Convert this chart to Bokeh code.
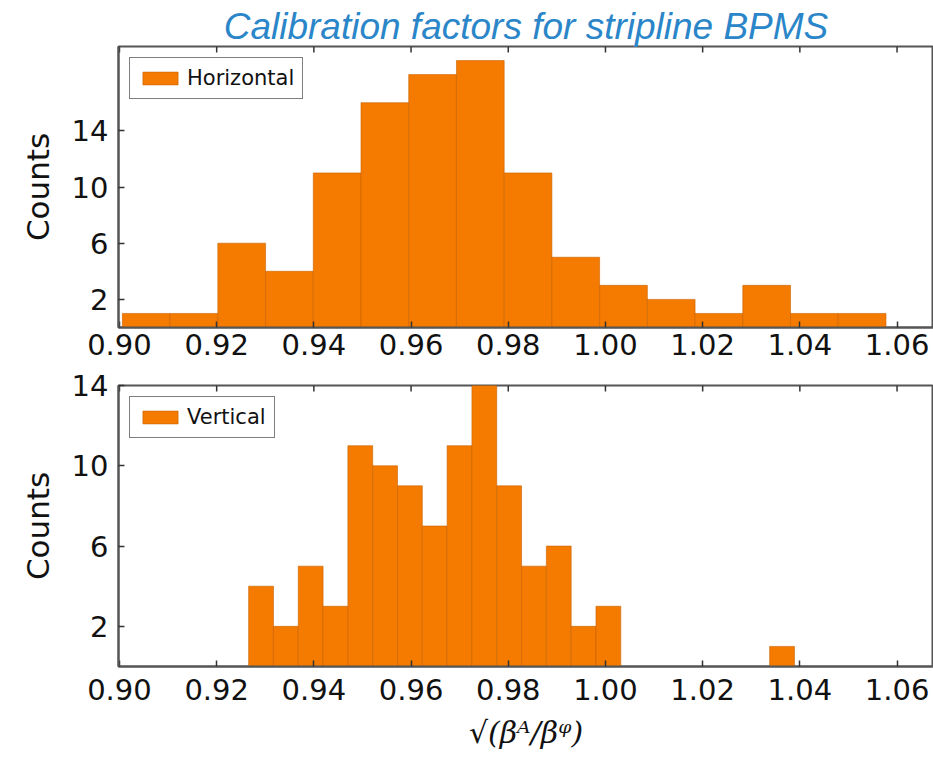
import math
from bokeh.plotting import figure
from bokeh.layouts import column
from bokeh.models import (Range1d, FixedTicker, Legend, LegendItem,
                          ColumnDataSource, Title, NumeralTickFormatter)
from bokeh.embed import file_html
from bokeh.resources import INLINE

# ---- data ----
h_start = 0.9006
h_width = 0.00982
h_counts = [1, 1, 6, 4, 11, 16, 18, 19, 11, 5, 3, 2, 1, 3, 1, 1]

v_start = 0.92658
v_width = 0.005105
v_counts = [4, 2, 5, 3, 11, 10, 9, 7, 11, 14, 9, 5, 6, 2, 3,
            0, 0, 0, 0, 0, 0, 1]

x_ticks = [0.90, 0.92, 0.94, 0.96, 0.98, 1.00, 1.02, 1.04, 1.06]
y_ticks = [2, 6, 10, 14]

title_text = "Calibration factors for stripline BPMS"
x_label = "√(βᴬ/βᵠ)"
y_label = "Counts"

BAR = "#f57a00"
EDGE = "#c86200"
FRAME = "#555555"
TICKFONT = "29px"


def edges(start, width, counts):
    left = [start + i * width for i in range(len(counts))]
    right = [start + (i + 1) * width for i in range(len(counts))]
    return left, right


def make_fig(height, ymax, counts, start, width, label, border_top, border_bottom):
    p = figure(width=933, height=height, output_backend="svg", toolbar_location=None,
               x_range=Range1d(0.8998, 1.0675), y_range=Range1d(0, ymax),
               min_border_left=118, min_border_right=0,
               min_border_top=border_top, min_border_bottom=border_bottom)
    p.grid.visible = False
    p.outline_line_color = FRAME
    p.outline_line_width = 2
    p.background_fill_color = "white"
    p.border_fill_color = "white"

    left, right = edges(start, width, counts)
    src = ColumnDataSource(dict(left=left, right=right, top=counts,
                                bottom=[0] * len(counts)))
    r = p.quad(left="left", right="right", top="top", bottom="bottom", source=src,
               fill_color=BAR, line_color=EDGE, line_width=1, line_alpha=0.6)

    # inward tick marks along the top edge of the frame
    p.ray(x=x_ticks, y=[ymax] * len(x_ticks), length=6, length_units="screen",
          angle=-math.pi / 2, line_color="#333333", line_width=1.5)

    xa = p.xaxis[0]
    ya = p.yaxis[0]
    for ax in (xa, ya):
        ax.major_tick_in = 6
        ax.major_tick_out = 0
        ax.minor_tick_line_color = None
        ax.axis_line_color = FRAME
        ax.axis_line_width = 2
        ax.major_tick_line_color = "#333333"
        ax.major_tick_line_width = 1.5
        ax.major_label_text_font = "DejaVu Sans"
        ax.major_label_text_font_size = TICKFONT
        ax.major_label_text_color = "#111111"

    xa.ticker = FixedTicker(ticks=x_ticks)
    xa.formatter = NumeralTickFormatter(format="0.00")
    ya.ticker = FixedTicker(ticks=y_ticks)
    ya.major_label_standoff = 10
    ya.axis_label = y_label
    ya.axis_label_text_font = "DejaVu Sans"
    ya.axis_label_text_font_size = "31px"
    ya.axis_label_text_font_style = "normal"
    ya.axis_label_text_color = "#111111"
    ya.axis_label_standoff = 13

    legend = Legend(items=[LegendItem(label=label, renderers=[r])], location="top_left",
                    margin=11, padding=8, spacing=0,
                    glyph_width=44, glyph_height=16, label_standoff=5,
                    label_text_font="DejaVu Sans", label_text_font_size="21px",
                    label_text_color="#111111", label_height=16,
                    border_line_color="black", border_line_width=1.5,
                    background_fill_alpha=1.0)
    p.add_layout(legend)
    return p, xa


p1, xa1 = make_fig(368, 20, h_counts, h_start, h_width, "Horizontal", 46, 41)
xa1.major_label_standoff = 6

t = Title(text=title_text, align="center", text_font="Liberation Sans",
          text_font_size="37px", text_font_style="italic", text_color="#2a86c8",
          standoff=0, offset=0)
p1.add_layout(t, "above")

p2, xa2 = make_fig(397, 14, v_counts, v_start, v_width, "Vertical", 17, 99)
xa2.major_label_standoff = 12
xa2.axis_label = x_label
xa2.axis_label_text_font = "DejaVu Serif"
xa2.axis_label_text_font_size = "30px"
xa2.axis_label_text_font_style = "italic"
xa2.axis_label_text_color = "#111111"
xa2.axis_label_standoff = 12

layout = column(p1, p2, spacing=0)

open("out.html", "w").write(file_html(layout, INLINE))
